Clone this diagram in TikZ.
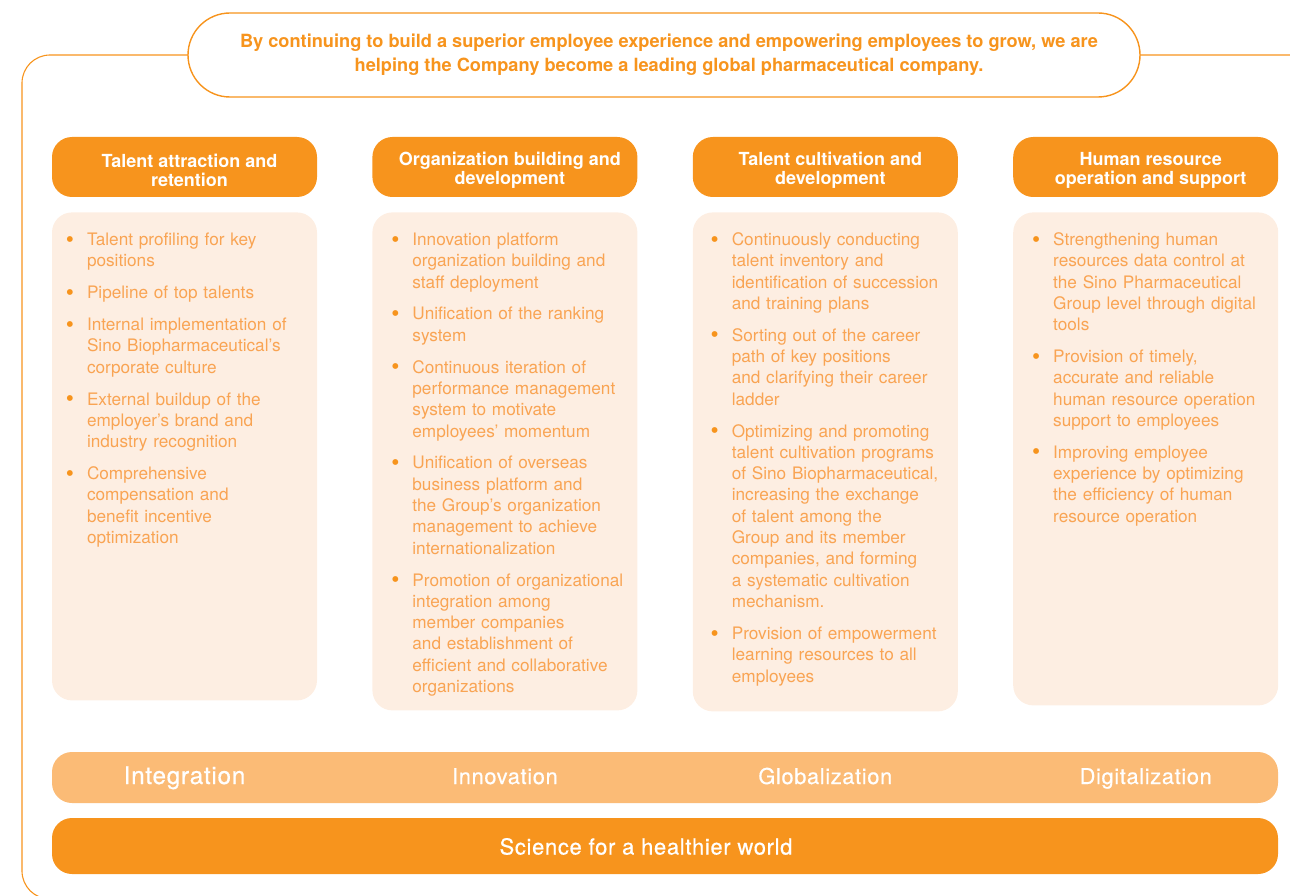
\documentclass[tikz,border=0pt]{standalone}
\usepackage{fontspec,enumitem}
\setmainfont{TeX Gyre Heros}
\newfontfamily\trackedfont[LetterSpace=3,FakeBold=0.6]{TeX Gyre Heros}
\usetikzlibrary{positioning,calc}
\definecolor{hrorange}{HTML}{F7941D}
\definecolor{hrlight}{HTML}{FBBB76}
\definecolor{hrpale}{HTML}{FDEEE2}
\definecolor{hrtext}{HTML}{F9A453}
\setlist[itemize]{leftmargin=20pt,labelsep=13pt,itemsep=10.6pt,topsep=0pt,parsep=0pt,partopsep=0pt,
 label={\color{hrorange}\raisebox{-1.6pt}{\scalebox{1.35}{\textbullet}}}}

\begin{document}
\begin{tikzpicture}[x=1pt,y=-1pt,
 frame/.style={draw=hrorange,line width=1.1pt,rounded corners=28pt},
 pill/.style={draw=hrorange,line width=1.4pt,fill=white,rounded corners=42pt,
  minimum width=952pt,minimum height=84pt},
 pilltext/.style={align=center,text=hrorange,inner sep=0pt,font=\fontsize{18.2}{24}\selectfont\bfseries},
 head/.style={fill=hrorange,rounded corners=20pt,minimum width=265pt,minimum height=60pt,inner sep=0pt},
 headtext/.style={align=center,text=white,font=\fontsize{18}{19}\selectfont\bfseries,inner sep=0pt},
 bodybox/.style={fill=hrpale,rounded corners=20pt,minimum width=265pt,inner sep=0pt},
 bodytext/.style={anchor=north west,text width=252pt,inner sep=0pt,text=hrtext,
  font=\fontsize{17.2}{21.3}\selectfont},
 bar/.style={rounded corners=20pt,minimum width=1226pt,inner sep=0pt},
 barlabel/.style={anchor=base,text=white,inner sep=0pt,font=\fontsize{21.8}{24}\trackedfont}]
\useasboundingbox (0,0) rectangle (1290,896);
\clip (0,0) rectangle (1290,896);

% outer frame and motto
\draw[frame] (22,55) rectangle (1330,899);
\node[pill] (motto) at (664,55) {};
\node[pilltext] (mottotext) at ($(motto)+(5,0)$) {By continuing to build a superior employee experience and empowering employees to grow, we are\\
 helping the Company become a leading global pharmaceutical company.};

% four pillars
\node[head] (hd1) at (184.5,167) {};
\node[head,right=55pt of hd1] (hd2) {};
\node[head,right=55pt of hd2] (hd3) {};
\node[head,right=55pt of hd3] (hd4) {};
\node[headtext] (ht1) at ($(hd1)+(5,3)$) {Talent attraction and\\ retention};
\node[headtext] (ht2) at ($(hd2)+(5,3)$) {Organization building and\\ development};
\node[headtext] (ht3) at ($(hd3)+(5,3)$) {Talent cultivation and\\ development};
\node[headtext] (ht4) at ($(hd4)+(5,3)$) {Human resource\\ operation and support};

\node[bodybox,minimum height=488pt,below=15pt of hd1] (bd1) {};
\node[bodybox,minimum height=498pt,below=15pt of hd2] (bd2) {};
\node[bodybox,minimum height=499pt,below=15pt of hd3] (bd3) {};
\node[bodybox,minimum height=493pt,below=15pt of hd4] (bd4) {};

\node[bodytext] (tx1) at ($(bd1.north west)+(15,11.8)$) {\begin{itemize}
 \item Talent profiling for key\\ positions
 \item Pipeline of top talents
 \item Internal implementation of\\ Sino Biopharmaceutical’s\\ corporate culture
 \item External buildup of the\\ employer’s brand and\\ industry recognition
 \item Comprehensive\\ compensation and\\ benefit incentive\\ optimization
\end{itemize}};
\node[bodytext] (tx2) at ($(bd2.north west)+(20,11.8)$) {\begin{itemize}
 \item Innovation platform\\ organization building and\\ staff deployment
 \item Unification of the ranking\\ system
 \item Continuous iteration of\\ performance management\\ system to motivate\\ employees’ momentum
 \item Unification of overseas\\ business platform and\\ the Group’s organization\\ management to achieve\\ internationalization
 \item Promotion of organizational\\ integration among\\ member companies\\ and establishment of\\ efficient and collaborative\\ organizations
\end{itemize}};
\node[bodytext] (tx3) at ($(bd3.north west)+(19,11.8)$) {\begin{itemize}
 \item Continuously conducting\\ talent inventory and\\ identification of succession\\ and training plans
 \item Sorting out of the career\\ path of key positions\\ and clarifying their career\\ ladder
 \item Optimizing and promoting\\ talent cultivation programs\\ of Sino Biopharmaceutical,\\ increasing the exchange\\ of talent among the\\ Group and its member\\ companies, and forming\\ a systematic cultivation\\ mechanism.
 \item Provision of empowerment\\ learning resources to all\\ employees
\end{itemize}};
\node[bodytext] (tx4) at ($(bd4.north west)+(20,11.8)$) {\begin{itemize}
 \item Strengthening human\\ resources data control at\\ the Sino Pharmaceutical\\ Group level through digital\\ tools
 \item Provision of timely,\\ accurate and reliable\\ human resource operation\\ support to employees
 \item Improving employee\\ experience by optimizing\\ the efficiency of human\\ resource operation
\end{itemize}};

% values and mission
\node[bar,fill=hrlight,minimum height=51pt] (values) at (665,777.5) {};
\coordinate (vbase) at (665,784);
\node[barlabel,font=\fontsize{24.3}{26}\trackedfont] (v1) at (hd1 |- vbase) {Integration};
\node[barlabel] (v2) at (hd2 |- vbase) {Innovation};
\node[barlabel] (v3) at (hd3 |- vbase) {Globalization};
\node[barlabel] (v4) at (hd4 |- vbase) {Digitalization};
\node[bar,fill=hrorange,minimum height=56pt] (mission) at (665,846) {};
\node[barlabel,font=\fontsize{22}{24}\trackedfont] (mt) at ($(mission)+(-19,8.5)$) {Science for a healthier world};
\end{tikzpicture}
\end{document}
